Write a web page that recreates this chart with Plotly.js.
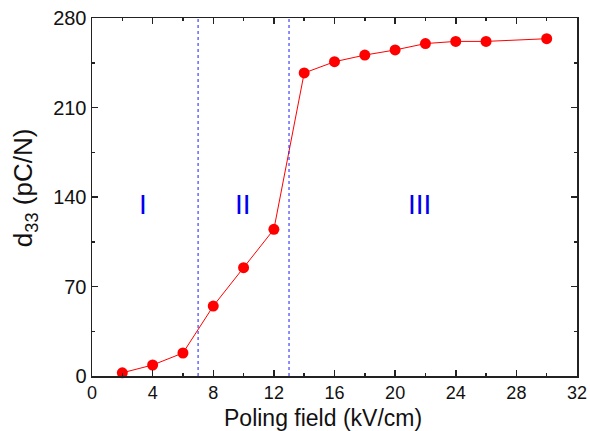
<!DOCTYPE html>
<html>
<head>
<meta charset="utf-8">
<script src="https://cdn.plot.ly/plotly-3.0.1.min.js"></script>
<style>html,body{margin:0;padding:0;background:#fff;}#chart{width:590px;height:431px;}</style>
</head>
<body>
<div id="chart"></div>
<script>
const field = [2, 4, 6, 8, 10, 12, 14, 16, 18, 20, 22, 24, 26, 30];
const d33 = [2.5, 8.6, 18, 54.7, 84.7, 114.7, 237, 245.8, 251, 255, 260, 261.7, 261.7, 263.8];
const boundaries = [7, 13];
const regionLabels = ["I", "II", "III"];
const regionX = [3.35, 9.95, 21.6];
const regionY = [134, 134, 134];
const xTicks = [0, 4, 8, 12, 16, 20, 24, 28, 32];
const yTicks = [0, 70, 140, 210, 280];
const xTitle = "Poling field (kV/cm)";
const yTitle = "d<sub>33</sub> (pC/N)";

const font = "Arial, 'Liberation Sans', sans-serif";

const trace = {
  x: field, y: d33, type: "scatter", mode: "lines+markers",
  line: {color: "#ff0000", width: 1},
  marker: {color: "#ff0000", size: 11},
  cliponaxis: false
};

const shapes = boundaries.map(b => ({
  type: "line", xref: "x", yref: "paper", x0: b, x1: b, y0: 0, y1: 1,
  line: {color: "#1a1aff", width: 1, dash: "dot"}
}));

const annotations = regionLabels.map((t, i) => ({
  x: regionX[i], y: regionY[i], xref: "x", yref: "y", text: t, showarrow: false,
  font: {family: font, size: 28, color: "#0000ee"}
}));
annotations.push({
  xref: "paper", yref: "paper", x: 0.476, y: -0.116, xanchor: "center", yanchor: "middle",
  text: xTitle, showarrow: false, borderpad: 0, font: {family: font, size: 23, color: "#111"}
});
annotations.push({
  xref: "paper", yref: "paper", x: -0.14, y: 0.525, xanchor: "center", yanchor: "middle",
  textangle: -90, text: yTitle, showarrow: false, font: {family: font, size: 26, color: "#111"}
});

const axisCommon = {
  showline: true, linecolor: "#222", linewidth: 1.5, mirror: "ticks",
  ticks: "inside", ticklen: 6, tickwidth: 1.5, tickcolor: "#222",
  showgrid: false, zeroline: false,
  tickfont: {family: font, size: 18, color: "#111"}
};

const layout = {
  width: 590, height: 431,
  margin: {l: 92, r: 13, t: 18, b: 55},
  paper_bgcolor: "#fff", plot_bgcolor: "#fff",
  showlegend: false,
  xaxis: Object.assign({}, axisCommon, {
    range: [0, 32], tickvals: xTicks, ticktext: xTicks.map(String),
    minor: {dtick: 2, tick0: 0, ticks: "inside", ticklen: 3, tickwidth: 1.5, tickcolor: "#222"}
  }),
  yaxis: Object.assign({}, axisCommon, {
    range: [0, 280], tickvals: yTicks, ticktext: yTicks.map(String),
    tickfont: {family: font, size: 20, color: "#111"},
    minor: {dtick: 35, tick0: 0, ticks: "inside", ticklen: 3, tickwidth: 1.5, tickcolor: "#222"}
  }),
  shapes: shapes,
  annotations: annotations
};

Plotly.newPlot("chart", [trace], layout, {displayModeBar: false, staticPlot: true});
</script>
</body>
</html>
